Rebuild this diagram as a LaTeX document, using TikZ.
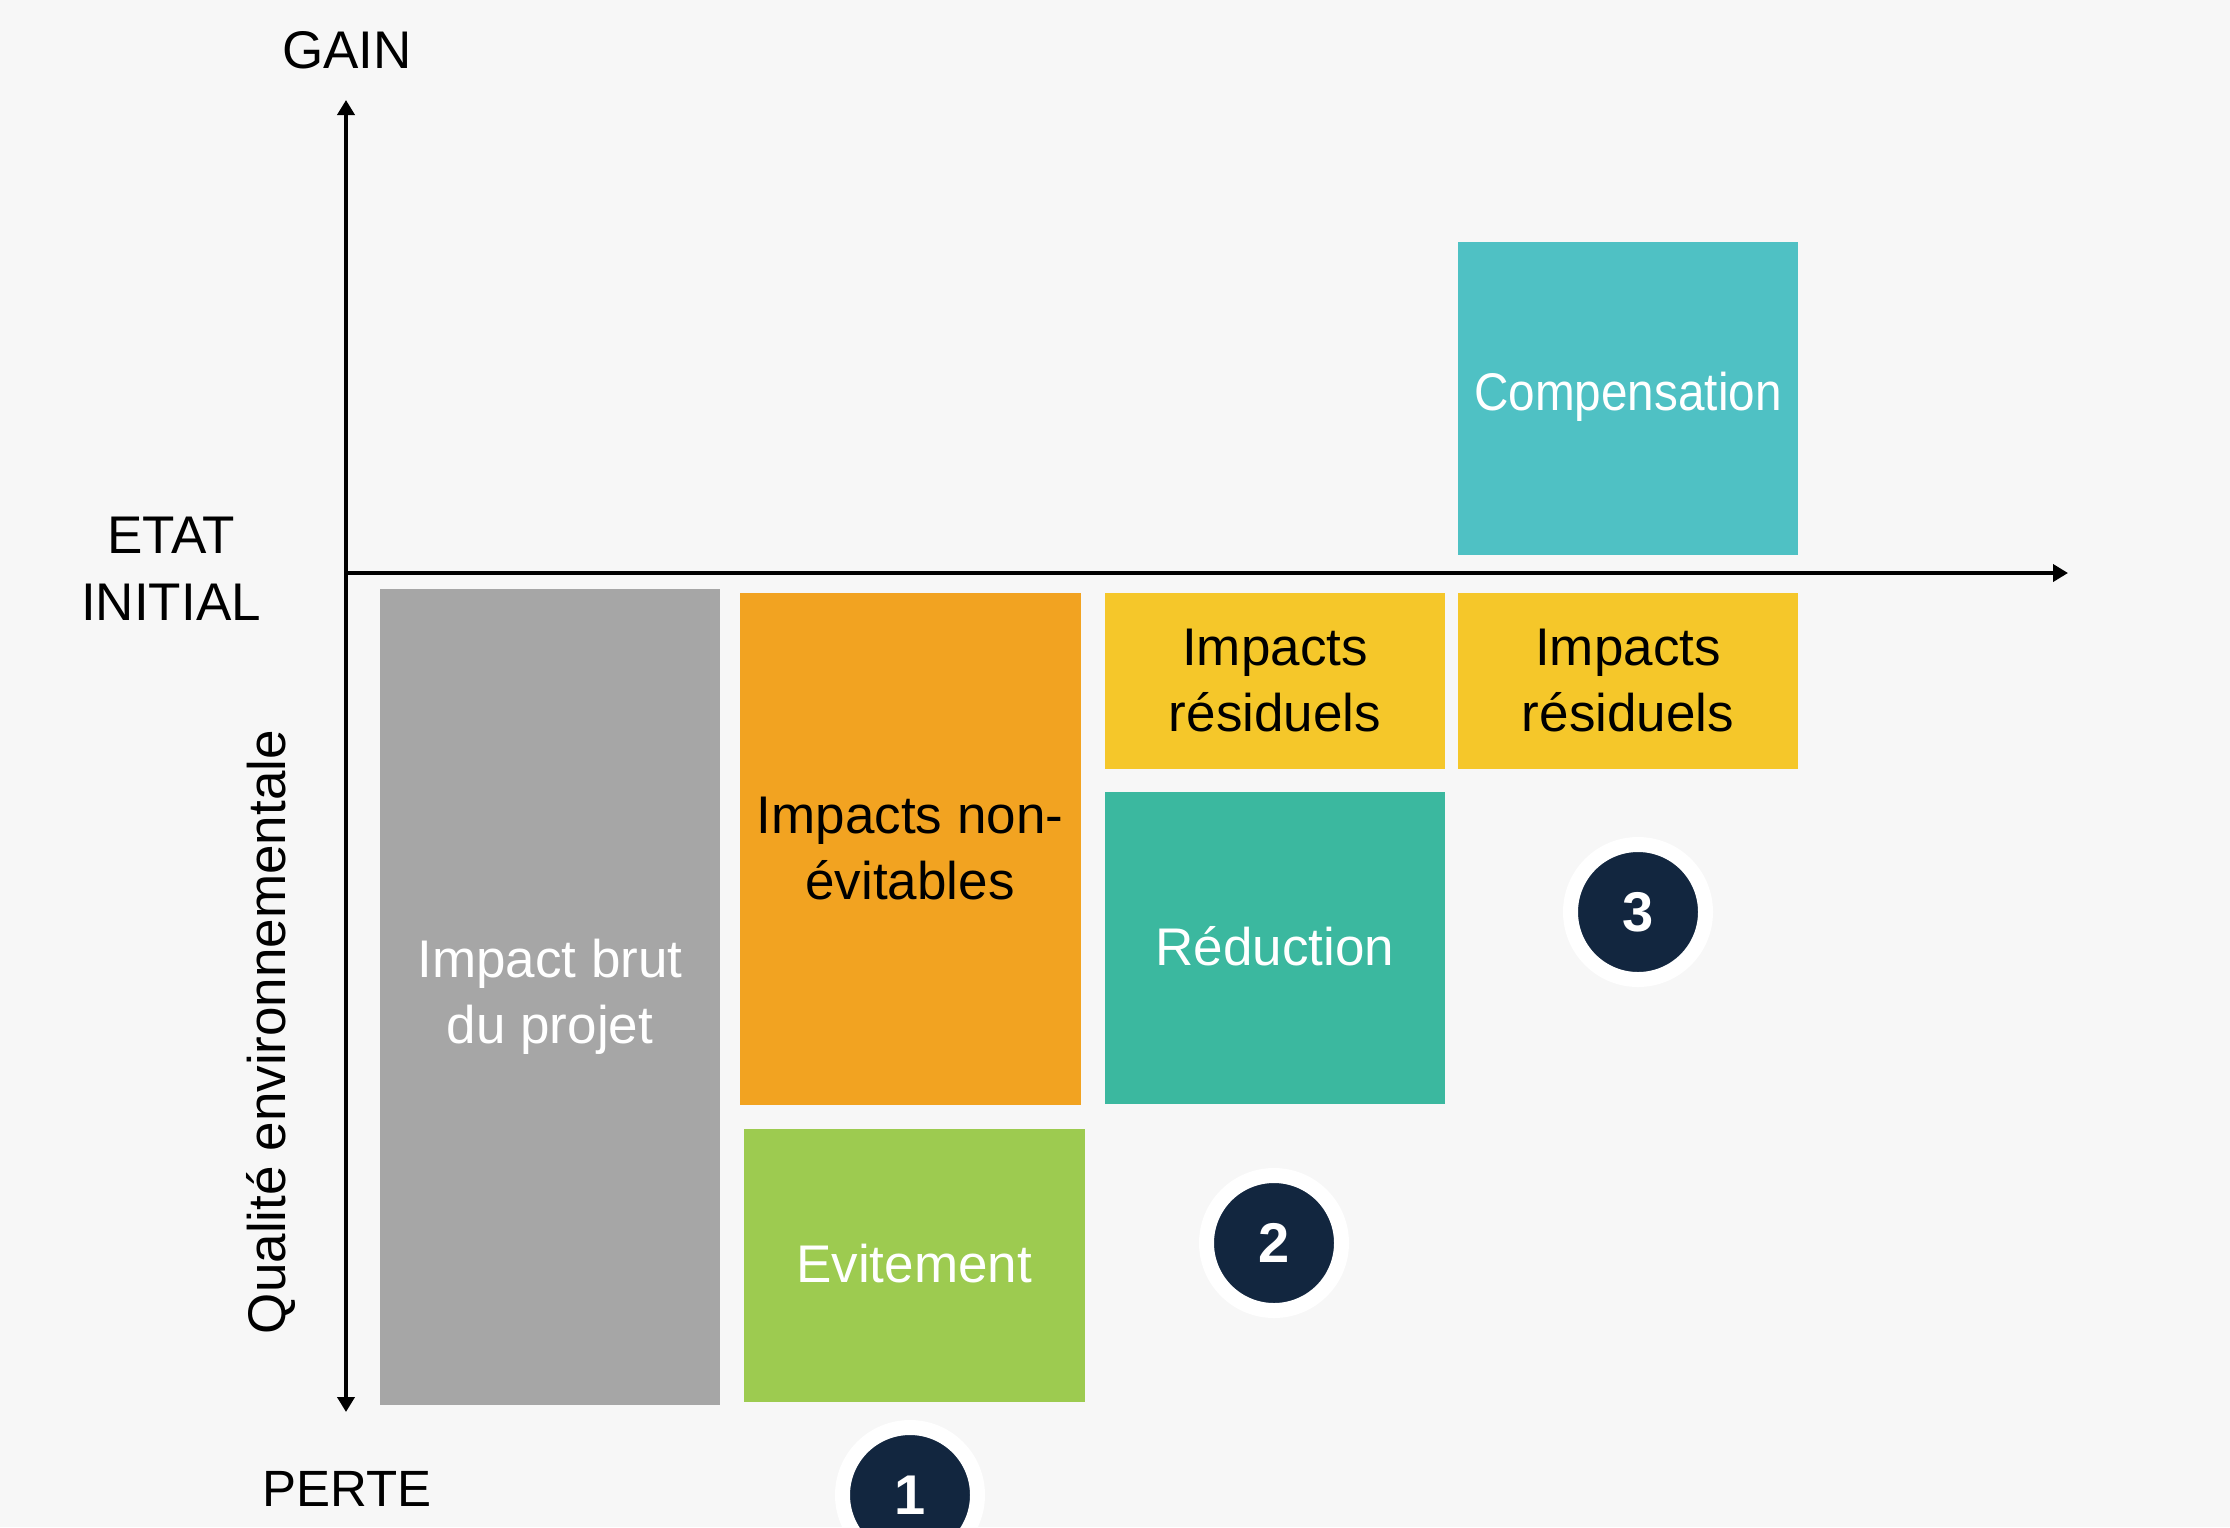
\documentclass[tikz,border=0pt]{standalone}
\usepackage{fontspec}
\setmainfont{Liberation Sans}
\usetikzlibrary{arrows.meta}
\definecolor{bgc}{HTML}{F7F7F7}
\definecolor{grayc}{HTML}{A6A6A6}
\definecolor{orangec}{HTML}{F2A321}
\definecolor{greenc}{HTML}{9DCB50}
\definecolor{yellowc}{HTML}{F5C72A}
\definecolor{tealc}{HTML}{3BB89F}
\definecolor{cyanc}{HTML}{4FC1C4}
\definecolor{navyc}{HTML}{12263F}
\tikzset{
  box/.style={inner sep=0pt, align=center, font=\fontsize{53}{66}\selectfont},
  darktext/.style={text=black},
  lighttext/.style={text=white},
  axis/.style={line width=4.5pt, black},
  tipc/.style={-{Triangle[length=15pt,width=17pt]}},
  lbl/.style={align=center, font=\fontsize{53}{67}\selectfont, inner sep=0pt},
  stepnum/.style={circle, fill=navyc, draw=white, line width=15pt, minimum size=135pt, inner sep=0pt, text=white, font=\fontsize{56}{56}\selectfont\bfseries}
}
\begin{document}
\begin{tikzpicture}[x=1pt,y=-1pt]
\useasboundingbox (0,0) rectangle (2230,1527);
\clip (0,0) rectangle (2230,1527);
\fill[bgc] (0,0) rectangle (2230,1527);

% boxes
\fill[grayc] (380,589) rectangle (720,1405);
\node[box, lighttext] (brut) at (550,997) {Impact brut\\du projet};
\fill[orangec] (740,593) rectangle (1081,1105);
\node[box, darktext] (nonev) at (910,849) {Impacts non-\\évitables};
\fill[greenc] (744,1129) rectangle (1085,1402);
\node[box, lighttext] (evit) at (914,1264) {Evitement};
\fill[yellowc] (1105,593) rectangle (1445,769);
\node[box, darktext] (res1) at (1275,681) {Impacts\\résiduels};
\fill[tealc] (1105,792) rectangle (1445,1104);
\node[box, lighttext] (red) at (1275,946) {Réduction};
\fill[yellowc] (1458,593) rectangle (1798,769);
\node[box, darktext] (res2) at (1628,681) {Impacts\\résiduels};
\fill[cyanc] (1458,242) rectangle (1798,555);
\node[box, lighttext, transform shape, xscale=0.9] (comp) at (1628,397) {Compensation};

% axes
\coordinate (top) at (346,100);
\coordinate (bot) at (346,1412);
\coordinate (origin) at (346,573);
\coordinate (right) at (2068,573);
\draw[axis, {Triangle[length=15pt,width=17pt]}-{Triangle[length=15pt,width=17pt]}] (top) -- (bot);
\draw[axis, tipc] (origin) -- (right);

% labels
\node[lbl, anchor=base] (gain) at (347,68) {GAIN};
\node[lbl, anchor=base, font=\fontsize{51}{67}\selectfont] (perte) at (347,1506) {PERTE};
\node[lbl] (etat) at (171,569) {ETAT\\INITIAL};
\node[lbl, rotate=90, anchor=base] (qual) at (285,1032) {Qualité environnementale};

% step circles
\node[stepnum] (s1) at (910,1495) {1};
\node[stepnum] (s2) at (1274,1243) {2};
\node[stepnum] (s3) at (1638,912) {3};
\end{tikzpicture}
\end{document}
